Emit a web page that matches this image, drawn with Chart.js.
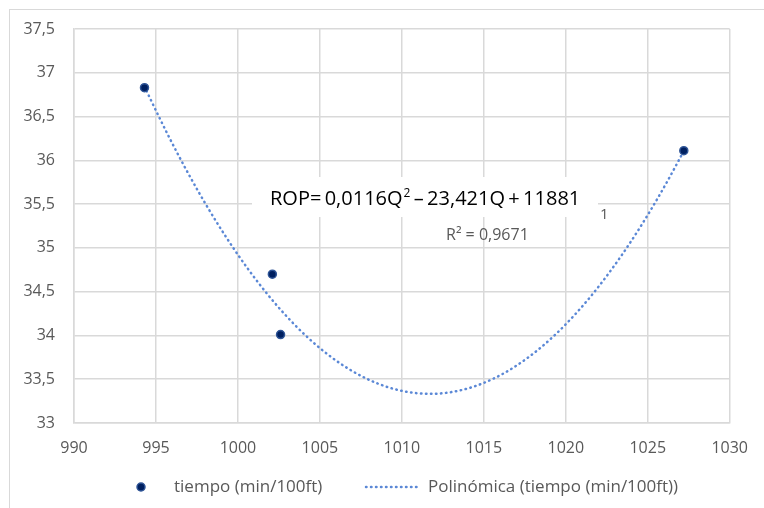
<!DOCTYPE html>
<html>
<head>
<meta charset="utf-8">
<script src="https://cdn.jsdelivr.net/npm/chart.js@4/dist/chart.umd.min.js"></script>
<style>
  html, body { margin: 0; padding: 0; background: #fff; }
  #wrap { width: 764px; height: 508px; position: relative; }
</style>
</head>
<body>
<div id="wrap"><canvas id="grafico" width="764" height="508"></canvas></div>
<script>
// caudal (gpm) vs tiempo (min/100ft)
const caudal = [994.3, 1002.1, 1002.6, 1027.2];
const tiempo = [36.83, 34.70, 34.01, 36.11];

const xTicks = [990, 995, 1000, 1005, 1010, 1015, 1020, 1025, 1030];
const yTicks = [33, 33.5, 34, 34.5, 35, 35.5, 36, 36.5, 37, 37.5];

const serieNombre = 'tiempo (min/100ft)';
const tendenciaNombre = 'Polinómica (tiempo (min/100ft))';
const ecuacion = ['ROP=\u20090,0116Q', '2', '\u2009\u2013\u200923,421Q\u2009+\u200911881'];
const r2Texto = 'R² = 0,9671';

const gris = '#595959';
const fuente = '"Open Sans", sans-serif';

// ajuste polinómico de grado 2 por mínimos cuadrados (como la línea de tendencia de Excel)
function ajustePolinomico(xs, ys) {
    const c = 1010;
    const s = [0, 0, 0, 0, 0], t = [0, 0, 0];
    xs.forEach((x, i) => {
        const u = x - c;
        for (let k = 0; k < 5; k++) s[k] += Math.pow(u, k);
        for (let k = 0; k < 3; k++) t[k] += ys[i] * Math.pow(u, k);
    });
    const m = [[s[0], s[1], s[2], t[0]], [s[1], s[2], s[3], t[1]], [s[2], s[3], s[4], t[2]]];
    for (let i = 0; i < 3; i++) {
        for (let j = i + 1; j < 3; j++) {
            const f = m[j][i] / m[i][i];
            for (let k = i; k < 4; k++) m[j][k] -= f * m[i][k];
        }
    }
    const a = [0, 0, 0];
    for (let i = 2; i >= 0; i--) {
        let v = m[i][3];
        for (let k = i + 1; k < 3; k++) v -= m[i][k] * a[k];
        a[i] = v / m[i][i];
    }
    return x => a[0] + a[1] * (x - c) + a[2] * (x - c) * (x - c);
}

const f = ajustePolinomico(caudal, tiempo);
const xMin = Math.min(...caudal), xMax = Math.max(...caudal);
const tendencia = [];
for (let i = 0; i <= 120; i++) {
    const x = xMin + (xMax - xMin) * i / 120;
    tendencia.push({ x: x, y: f(x) });
}

const extras = {
    id: 'extras',
    beforeDraw(chart) {
        const ctx = chart.ctx;
        ctx.save();
        ctx.strokeStyle = '#d9d9d9';
        ctx.lineWidth = 1;
        ctx.strokeRect(9.5, 9.5, 800, 600);
        ctx.restore();
    },
    afterDraw(chart) {
        const ctx = chart.ctx;
        ctx.save();
        // caja de la ecuación
        ctx.fillStyle = '#fff';
        ctx.fillRect(252, 177, 346, 40);
        ctx.fillStyle = '#000';
        ctx.textBaseline = 'alphabetic';
        ctx.font = '20px ' + fuente;
        let x = 270;
        const yb = 205;
        ctx.fillText(ecuacion[0], x, yb);
        x += ctx.measureText(ecuacion[0]).width + 1;
        ctx.font = '12px ' + fuente;
        ctx.fillText(ecuacion[1], x, yb - 8);
        x += ctx.measureText(ecuacion[1]).width;
        ctx.font = '20px ' + fuente;
        ctx.fillText(ecuacion[2], x, yb);

        ctx.fillStyle = gris;
        ctx.font = '15px ' + fuente;
        ctx.fillText('1', 600, 219);
        ctx.font = '16px ' + fuente;
        ctx.fillText(r2Texto, 446, 240);

        // leyenda
        const ly = 487;
        ctx.beginPath();
        ctx.arc(141, ly, 4, 0, Math.PI * 2);
        ctx.fillStyle = '#002060';
        ctx.fill();
        ctx.lineWidth = 1.5;
        ctx.strokeStyle = '#2f5597';
        ctx.stroke();
        ctx.fillStyle = gris;
        ctx.font = '17px ' + fuente;
        ctx.textBaseline = 'middle';
        ctx.fillText(serieNombre, 174, ly);
        ctx.beginPath();
        ctx.setLineDash([0.5, 4.5]);
        ctx.lineCap = 'round';
        ctx.lineWidth = 2.5;
        ctx.strokeStyle = '#5b88d6';
        ctx.moveTo(366, ly);
        ctx.lineTo(421, ly);
        ctx.stroke();
        ctx.setLineDash([]);
        ctx.fillText(tendenciaNombre, 428, ly);
        ctx.restore();
    }
};

const coma = v => String(v).replace('.', ',');

new Chart(document.getElementById('grafico').getContext('2d'), {
    type: 'scatter',
    data: {
        datasets: [
            {
                label: serieNombre,
                data: caudal.map((x, i) => ({ x: x, y: tiempo[i] })),
                backgroundColor: '#002060',
                borderColor: '#2f5597',
                borderWidth: 1.5,
                pointRadius: 4,
                pointHoverRadius: 4,
                order: 1
            },
            {
                label: tendenciaNombre,
                type: 'line',
                data: tendencia,
                showLine: true,
                borderColor: '#5b88d6',
                borderWidth: 2.5,
                borderDash: [0.5, 4.5],
                borderCapStyle: 'round',
                pointRadius: 0,
                fill: false,
                tension: 0,
                order: 2
            }
        ]
    },
    options: {
        responsive: false,
        animation: false,
        layout: { padding: { left: 0, right: 31, top: 29, bottom: 45 } },
        plugins: { legend: { display: false }, tooltip: { enabled: false } },
        scales: {
            x: {
                type: 'linear',
                min: 990, max: 1030,
                afterBuildTicks: s => { s.ticks = xTicks.map(v => ({ value: v })); },
                afterFit: s => { s.height = 40; },
                grid: { color: '#d9d9d9', lineWidth: 1.5, drawTicks: false },
                border: { color: '#d9d9d9', width: 1.5 },
                ticks: { color: gris, font: { family: fuente, size: 16 }, padding: 16, maxRotation: 0, callback: v => coma(v) }
            },
            y: {
                min: 33, max: 37.5,
                afterBuildTicks: s => { s.ticks = yTicks.map(v => ({ value: v })); },
                afterFit: s => { s.width = 74; },
                grid: { color: '#d9d9d9', lineWidth: 1.5, drawTicks: false },
                border: { color: '#d9d9d9', width: 1.5 },
                ticks: { color: gris, font: { family: fuente, size: 16 }, padding: 19, callback: v => coma(v) }
            }
        }
    },
    plugins: [extras]
});
</script>
</body>
</html>
